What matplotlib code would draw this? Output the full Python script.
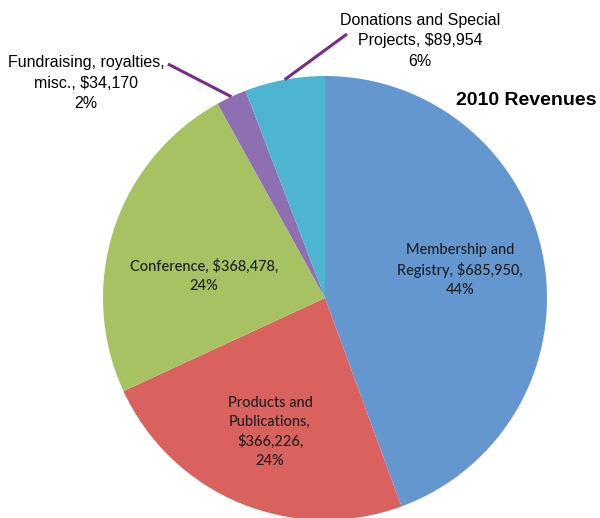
import numpy as np
import matplotlib
matplotlib.use("Agg")
from matplotlib import pyplot as plt

categories = ["Membership and\nRegistry, $685,950,\n44%",
              "Products and\nPublications,\n$366,226,\n24%",
              "Conference, $368,478,\n24%",
              "Fundraising, royalties,\nmisc., $34,170\n2%",
              "Donations and Special\nProjects, $89,954\n6%"]
values = [685950, 366226, 368478, 34170, 89954]
colors = ["#6497d0", "#d9625e", "#a6c262", "#8d6fb2", "#4eb5d0"]

W, H = 600, 518
fig = plt.figure(figsize=(W / 100, H / 100), dpi=100)

# pie centre (325, 298) from top-left, radius 222 px
cx, cy, r = 325, 298, 222
ax = fig.add_axes([(cx - r) / W, (H - cy - r) / H, 2 * r / W, 2 * r / H])
wedges, _ = ax.pie(values, colors=colors, startangle=90, counterclock=False,
                   radius=1.0, wedgeprops=dict(linewidth=0))
ax.set_xlim(-1, 1)
ax.set_ylim(-1, 1)
ax.set_aspect("auto")

inside_font = ["Lato", "DejaVu Sans"]
narrow = ["Liberation Sans Narrow", "Liberation Sans", "DejaVu Sans"]


def px(x, y):
    return x / W, 1 - y / H


# inside labels
inside_pos = {0: (460, 270), 1: (270, 432), 2: (204, 276)}
for i, (x, y) in inside_pos.items():
    fig.text(*px(x, y), categories[i], ha="center", va="center",
             fontsize=10.5, color="#1f1f1f", family=inside_font,
             linespacing=1.45, fontweight="medium")

# outside labels with leader lines
outside = {3: ((86, 83), (168, 64)), 4: ((420, 41), (347, 34))}
for i, ((tx, ty), (lx, ly)) in outside.items():
    fig.text(*px(tx, ty), categories[i], ha="center", va="center",
             fontsize=11.5, color="black", family=narrow, linespacing=1.45)
    w = wedges[i]
    mid = np.deg2rad((w.theta1 + w.theta2) / 2)
    x0, y0 = np.cos(mid) * 1.0, np.sin(mid) * 1.0
    lxd = (lx - cx) / r
    lyd = (cy - ly) / r
    ax.plot([x0, lxd], [y0, lyd], color="#7a2a8c", lw=2.2, clip_on=False,
            solid_capstyle="butt")

fig.text(*px(597, 100), "2010 Revenues", ha="right", va="center",
         fontsize=14, fontweight="bold", family=narrow)

fig.savefig("out.png", dpi=100)
